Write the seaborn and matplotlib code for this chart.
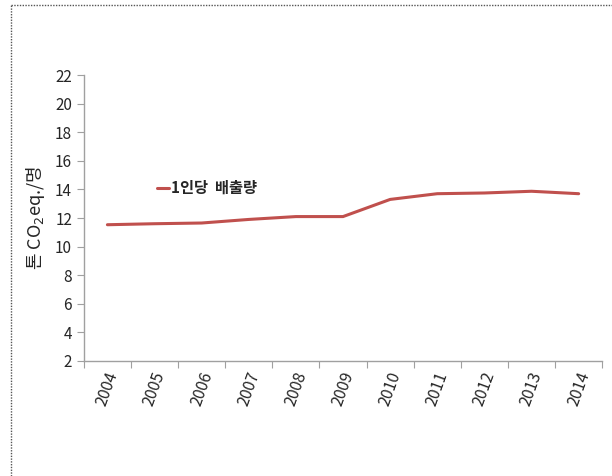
import matplotlib
matplotlib.use('Agg')
import matplotlib.pyplot as plt
import matplotlib.lines as mlines
import seaborn as sns
import pandas as pd
import numpy as np

# data
years = ['2004', '2005', '2006', '2007', '2008', '2009', '2010', '2011', '2012', '2013', '2014']
per_capita = [11.53, 11.6, 11.65, 11.9, 12.1, 12.1, 13.3, 13.7, 13.75, 13.87, 13.7]
series_name = '1인당  배출량'
y_label = '톤 CO$_2$eq./명'

df = pd.DataFrame({'year': years, 'value': per_capita})

sns.set_style('white')
plt.rcParams['font.family'] = ['Noto Sans CJK KR', 'DejaVu Sans']

fig = plt.figure(figsize=(6.12, 4.76), dpi=100)
ax = fig.add_axes([0.137, 0.2416, 0.847, 0.6008])

sns.lineplot(data=df, x='year', y='value', ax=ax, color='#C0504D', linewidth=2.2,
             label=series_name, sort=False)

n = len(years)
ax.set_xlim(-0.5, n - 0.5)
ax.set_ylim(2, 22)
ax.set_yticks(np.arange(2, 23, 2))

# ticks at category boundaries, labels at centres
ax.set_xticks(np.arange(-0.5, n, 1.0))
ax.set_xticklabels([])
ax.set_xticks(np.arange(n), minor=True)
ax.set_xticklabels(years, minor=True, rotation=70, ha='center', va='top', fontsize=11.5)
ax.tick_params(axis='x', which='major', length=5, color='#a0a0a0', direction='out', bottom=True)
ax.tick_params(axis='x', which='minor', length=0, pad=6)
ax.tick_params(axis='y', length=5, color='#a0a0a0', direction='out', left=True, labelsize=11)

for s in ['top', 'right']:
    ax.spines[s].set_visible(False)
for s in ['left', 'bottom']:
    ax.spines[s].set_color('#a0a0a0')
    ax.spines[s].set_linewidth(1)

ax.set_xlabel('')
ax.set_ylabel(y_label, fontsize=13, labelpad=6)

ax.legend(loc='center left', bbox_to_anchor=(0.115, 0.605), frameon=False,
          handlelength=0.8, handletextpad=0.1, prop={'size': 11, 'weight': 'bold'})

# dotted frame around the figure (left and top edges)
fig.add_artist(mlines.Line2D([11/612, 11/612], [0, 1 - 5/476], transform=fig.transFigure,
                             color='#555555', linestyle=(0, (1, 1)), linewidth=1))
fig.add_artist(mlines.Line2D([11/612, 1], [1 - 5/476, 1 - 5/476], transform=fig.transFigure,
                             color='#555555', linestyle=(0, (1, 1)), linewidth=1))

fig.savefig('out.png', dpi=100)
